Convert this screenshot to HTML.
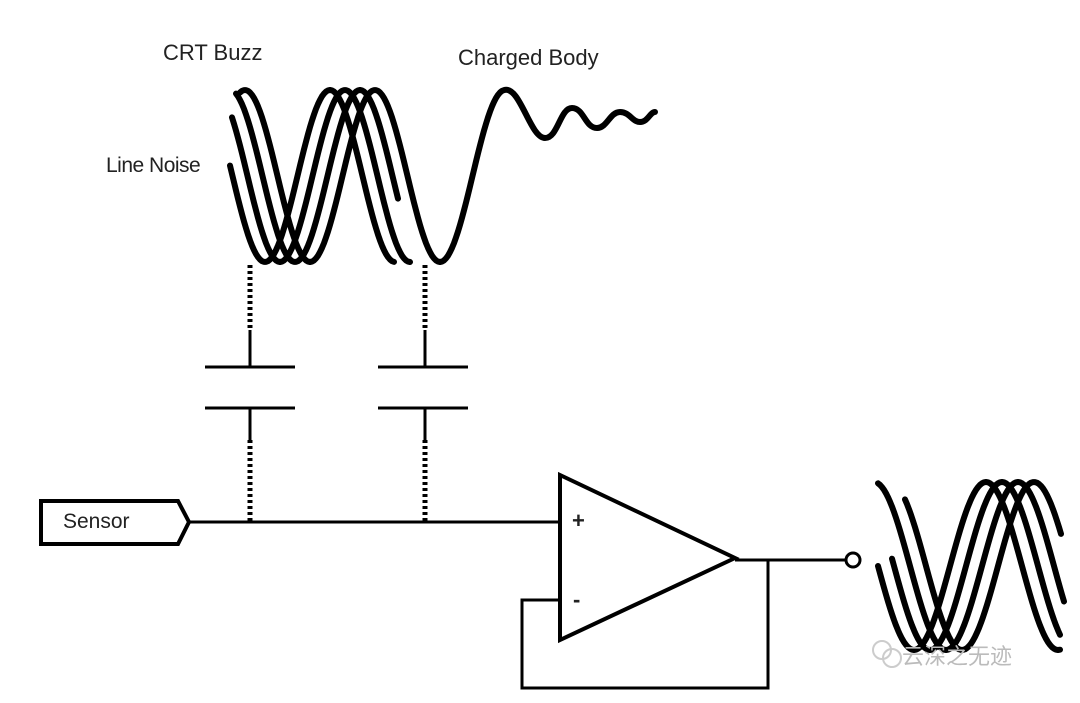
<!DOCTYPE html>
<html><head><style>
body{margin:0;background:#fff;}
svg{display:block;}
text{font-family:"Liberation Sans",sans-serif;fill:#222;}
</style></head><body>
<svg id="s" width="1080" height="703" viewBox="0 0 1080 703" xmlns="http://www.w3.org/2000/svg">
<g id="w" fill="none" stroke="#000" stroke-width="6" stroke-linecap="round" stroke-linejoin="round">
<path id="c1"/><path id="c2"/><path id="c3"/><path id="c4"/>
<path id="r1"/><path id="r2"/><path id="r3"/><path id="r4"/>
</g>
<g stroke="#000" stroke-width="3" fill="none">
<line x1="250" y1="265" x2="250" y2="330" stroke-dasharray="3,3" stroke-width="5"/>
<line x1="250" y1="330" x2="250" y2="367"/>
<line x1="205" y1="367" x2="295" y2="367"/>
<line x1="205" y1="408" x2="295" y2="408"/>
<line x1="250" y1="408" x2="250" y2="440"/>
<line x1="250" y1="440" x2="250" y2="522" stroke-dasharray="3,3" stroke-width="5"/>
<line x1="425" y1="265" x2="425" y2="330" stroke-dasharray="3,3" stroke-width="5"/>
<line x1="425" y1="330" x2="425" y2="367"/>
<line x1="378" y1="367" x2="468" y2="367"/>
<line x1="378" y1="408" x2="468" y2="408"/>
<line x1="425" y1="408" x2="425" y2="440"/>
<line x1="425" y1="440" x2="425" y2="522" stroke-dasharray="3,3" stroke-width="5"/>
<path d="M41,501 L178,501 L189,522 L178,544 L41,544 Z" stroke-width="4"/>
<line x1="189" y1="522" x2="560" y2="522"/>
<path d="M560,475 L560,640 L735,558 Z" stroke-width="4"/>
<line x1="735" y1="560" x2="846" y2="560"/>
<circle cx="853" cy="560" r="7"/>
<path d="M768,560 L768,688 L522,688 L522,600 L560,600"/>
</g>
<text x="163" y="60" font-size="22">CRT Buzz</text>
<text x="458" y="65" font-size="22">Charged Body</text>
<text x="106" y="172" font-size="21" letter-spacing="-0.5">Line Noise</text>
<text x="63" y="528" font-size="21">Sensor</text>
<text x="572" y="528" font-size="22" font-weight="bold">+</text>
<text x="573" y="607" font-size="22" font-weight="bold">-</text>
<text x="902" y="664" font-size="22" style="fill:#bbb;font-family:'Liberation Sans','Noto Sans CJK SC',sans-serif">云深之无迹</text>
<circle cx="882" cy="650" r="9" fill="none" stroke="#ccc" stroke-width="2"/>
<circle cx="892" cy="658" r="9" fill="none" stroke="#ccc" stroke-width="2"/>
</svg>
<script>
function sine(t,h,c,a,x0,x1,extra){
  var d="";
  for(var x=x0;x<=x1;x+=2){
    var y=c+a*Math.cos(Math.PI*(x-t)/h);
    d+=(d?"L":"M")+x+","+y.toFixed(1);
  }
  return d+(extra||"");
}
function set(id,d){document.getElementById(id).setAttribute("d",d);}
set("c1",sine(265,65,176,86,230,395));
set("c2",sine(280,65,176,86,232,410));
set("c3",sine(295,65,176,86,236,398));
set("c4",sine(310,65,176,86,240,505," C520,85 530,138 545,138 C558,138 560,108 572,108 C584,108 585,128 597,128 C607,128 610,112 620,112 C630,112 632,122 640,122 C648,122 650,112 655,112"));
set("r1",sine(946,72,566,84,878,1064));
set("r2",sine(914,72,566,84,878,1060));
set("r3",sine(930,72,566,84,892,1060));
set("r4",sine(962,72,566,84,905,1062));
</script>
</body></html>
